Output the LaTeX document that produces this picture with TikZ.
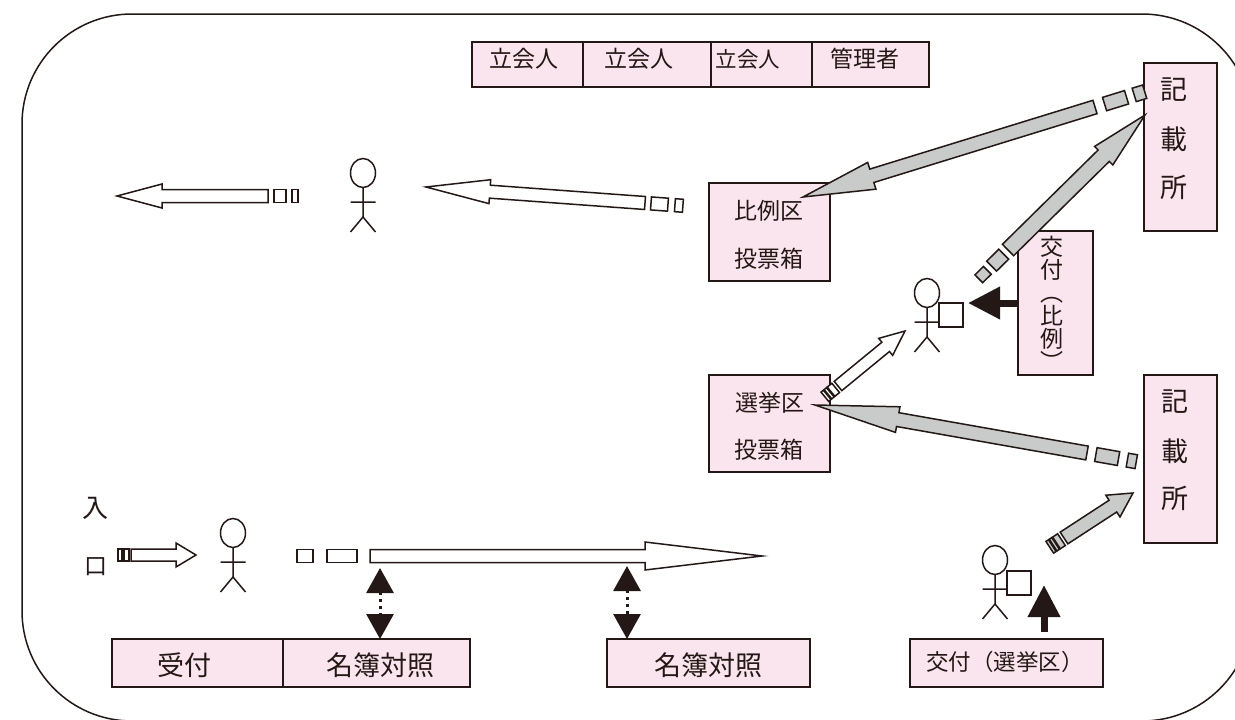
\documentclass[tikz,border=0pt]{standalone}
\usepackage{fontspec}
\newfontfamily\cjk{Noto Sans CJK JP}
\usetikzlibrary{arrows.meta,calc}

\definecolor{inkline}{HTML}{231815}
\definecolor{boxpink}{HTML}{FAE4EE}
\definecolor{arrowgray}{HTML}{C9CACA}

\tikzset{
  pinkbox/.style={draw=inkline,fill=boxpink,line width=1.5pt,inner sep=0pt,outer sep=0pt,anchor=north west},
  kanji/.style={text=inkline,inner sep=0pt,font=\cjk\fontsize{#1}{#1}\selectfont},
  kanji/.default=23,
  whitearrow/.style={draw=inkline,fill=white,line width=1.5pt,line join=miter},
  grayarrow/.style={draw=inkline,fill=arrowgray,line width=1.5pt,line join=miter},
  card/.style={draw=inkline,fill=white,line width=1.5pt,minimum size=24pt,inner sep=0pt,outer sep=0pt},
  blackarrow/.style={draw=inkline,line width=7pt,-{Triangle[length=32pt,width=31pt]}},
  checkarrow/.style={draw=inkline,line width=3pt,dash pattern=on 3pt off 4pt,
    {Triangle[length=25pt,width=27pt]}-{Triangle[length=25pt,width=27pt]}},
}

% block arrow: style, tail, tip, half width, half head, head length
\newcommand{\flowarrow}[6]{%
  \coordinate (neck) at ($(#3)!#6!(#2)$);
  \draw[#1] (#3) -- ($(neck)!#5!90:(#3)$) -- ($(neck)!#4!90:(#3)$)
    -- ($(#2)!#4!90:(#3)$) -- ($(#2)!#4!-90:(#3)$)
    -- ($(neck)!#4!-90:(#3)$) -- ($(neck)!#5!-90:(#3)$) -- cycle;
}
% broken piece behind the tail: style, tail, tip, from, to, half width
\newcommand{\flowdash}[6]{%
  \coordinate (fa) at ($(#2)!-#4!(#3)$);
  \coordinate (fb) at ($(#2)!-#5!(#3)$);
  \draw[#1] ($(fa)!#6!90:(#3)$) -- ($(fa)!#6!-90:(#3)$)
    -- ($(fb)!#6!-90:(#3)$) -- ($(fb)!#6!90:(#3)$) -- cycle;
}
% stick figure: x, y of the head centre
\newcommand{\stickman}[2]{%
  \draw[draw=inkline,line width=1.5pt] (#1,#2) ellipse [x radius=12.5pt,y radius=14.5pt];
  \draw[draw=inkline,line width=1.5pt] (#1,#2+14.5) -- (#1,#2+44)
    (#1-12.5,#2+29) -- (#1+12.5,#2+29)
    (#1-12.5,#2+59) -- (#1,#2+44) -- (#1+12.5,#2+59);
}

\begin{document}
\begin{tikzpicture}[x=1pt,y=-1pt]

\useasboundingbox (0,0) rectangle (1235,720);

% ========================
% ROOM OUTLINE
% ========================

\draw[draw=inkline,line width=1.5pt,rounded corners=110pt] (22,14) rectangle (1252,721);

% ========================
% TOP ROW
% ========================

\node[pinkbox,minimum width=111pt,minimum height=45pt] (tachi1) at (472,42) {};
\node[pinkbox,minimum width=128pt,minimum height=45pt] (tachi2) at (583,42) {};
\node[pinkbox,minimum width=101pt,minimum height=45pt] (tachi3) at (711,42) {};
\node[pinkbox,minimum width=117pt,minimum height=45pt] (kanri) at (812,42) {};
\node[kanji] (tachi1t) at (524,59) {立会人};
\node[kanji] (tachi2t) at (639,59) {立会人};
\node[kanji=21.5] (tachi3t) at (748,59) {立会人};
\node[kanji] (kanrit) at (865,59) {管理者};

% ========================
% RIGHT BOXES
% ========================

\node[pinkbox,minimum width=73pt,minimum height=168pt] (kisaiu) at (1144,63) {};
\node[kanji=27] (kisaiu1) at (1174,90) {記};
\node[kanji=27] (kisaiu2) at (1174,139) {載};
\node[kanji=27] (kisaiu3) at (1174,187) {所};

\node[pinkbox,minimum width=73pt,minimum height=168pt] (kisail) at (1144,375) {};
\node[kanji=27] (kisail1) at (1175,402) {記};
\node[kanji=27] (kisail2) at (1175,451) {載};
\node[kanji=27] (kisail3) at (1175,498) {所};

\node[pinkbox,minimum width=75pt,minimum height=144pt] (kofuh) at (1018,231) {};
\node[kanji=23,align=center] (kofuht) at (1052,303) {交\\付\\︵\\比\\例\\︶};

\node[pinkbox,minimum width=121pt,minimum height=98pt] (hakoh) at (709,183) {};
\node[kanji] (hakoh1) at (769,211) {比例区};
\node[kanji] (hakoh2) at (769,259) {投票箱};

\node[pinkbox,minimum width=121pt,minimum height=97pt] (hakos) at (709,375) {};
\node[kanji] (hakos1) at (770,403) {選挙区};
\node[kanji] (hakos2) at (769,450) {投票箱};

% ========================
% BOTTOM ROW
% ========================

\node[pinkbox,minimum width=171pt,minimum height=48pt] (uketsuke) at (112,639) {};
\node[pinkbox,minimum width=187pt,minimum height=48pt] (meibo1) at (283,639) {};
\node[pinkbox,minimum width=203pt,minimum height=48pt] (meibo2) at (607,639) {};
\node[pinkbox,minimum width=193pt,minimum height=48pt] (kofus) at (910,639) {};
\node[kanji=27] (uketsuket) at (184,665) {受付};
\node[kanji=27] (meibo1t) at (380,665) {名簿対照};
\node[kanji=27] (meibo2t) at (708,665) {名簿対照};
\node[kanji=22.5] (kofust) at (1005,662) {交付（選挙区）};

\node[kanji=26] (iri) at (95,508) {入};
\node[kanji=23] (kuchi) at (96,567) {口};

% ========================
% PEOPLE
% ========================

\stickman{363}{173}
\stickman{927}{293}
\stickman{995}{560}
\stickman{233}{533}

\node[card] (cardh) at (951,315) {};
\node[card] (cards) at (1019,583) {};

% ========================
% ARROWS
% ========================

% leaving
\coordinate (outt) at (268,196);
\coordinate (outh) at (117,196);
\flowarrow{whitearrow}{outt}{outh}{6.5pt}{12pt}{45pt}
\flowdash{whitearrow}{outt}{outh}{6pt}{18pt}{6.5pt}
\flowdash{whitearrow}{outt}{outh}{24pt}{30pt}{6.5pt}

\coordinate (walkt) at (645,203);
\coordinate (walkh) at (426,187);
\flowarrow{whitearrow}{walkt}{walkh}{6.5pt}{12pt}{64pt}
\flowdash{whitearrow}{walkt}{walkh}{6pt}{23pt}{6.5pt}
\flowdash{whitearrow}{walkt}{walkh}{30pt}{38pt}{6.5pt}

% to the ballot boxes
\coordinate (pt) at (1095,107);
\coordinate (ph) at (803,197);
\flowarrow{grayarrow}{pt}{ph}{7pt}{14pt}{72pt}
\flowdash{grayarrow}{pt}{ph}{10pt}{33pt}{7pt}
\flowdash{grayarrow}{pt}{ph}{41pt}{52pt}{7pt}

\coordinate (st) at (1087,453);
\coordinate (sh) at (815,405);
\flowarrow{grayarrow}{st}{sh}{7pt}{13pt}{84pt}
\flowdash{grayarrow}{st}{sh}{9pt}{32pt}{7pt}
\flowdash{grayarrow}{st}{sh}{41pt}{50pt}{7pt}

% to the writing desks
\coordinate (kt) at (1008,250);
\coordinate (kh) at (1145,115);
\flowarrow{grayarrow}{kt}{kh}{8pt}{13pt}{58pt}
\flowdash{grayarrow}{kt}{kh}{6pt}{23pt}{7pt}
\flowdash{grayarrow}{kt}{kh}{29pt}{41pt}{5.5pt}

\coordinate (lt) at (1064,538);
\coordinate (lh) at (1133,493);
\flowarrow{grayarrow}{lt}{lh}{7pt}{13pt}{24pt}
\flowdash{grayarrow}{lt}{lh}{3pt}{9pt}{7pt}
\flowdash{grayarrow}{lt}{lh}{10pt}{13pt}{7pt}
\flowdash{grayarrow}{lt}{lh}{14pt}{17pt}{7pt}

% from the box to the desk
\coordinate (bt) at (838,386);
\coordinate (bh) at (905,331);
\flowarrow{whitearrow}{bt}{bh}{6pt}{11pt}{25pt}
\flowdash{whitearrow}{bt}{bh}{3pt}{9pt}{6pt}
\flowdash{whitearrow}{bt}{bh}{10pt}{13pt}{6pt}
\flowdash{whitearrow}{bt}{bh}{14pt}{17pt}{6pt}

% entrance
\coordinate (it) at (131,555);
\coordinate (ih) at (196,555);
\flowarrow{whitearrow}{it}{ih}{6pt}{12pt}{20pt}
\flowdash{whitearrow}{it}{ih}{2pt}{7pt}{6pt}
\flowdash{whitearrow}{it}{ih}{9pt}{13pt}{6pt}

% along the table
\coordinate (lgt) at (370,556);
\coordinate (lgh) at (762,556);
\flowarrow{whitearrow}{lgt}{lgh}{6.5pt}{14pt}{117pt}
\flowdash{whitearrow}{lgt}{lgh}{13pt}{43pt}{6.5pt}
\flowdash{whitearrow}{lgt}{lgh}{57pt}{73pt}{6.5pt}

% ballots handed over
\coordinate (handh) at (968,303);
\coordinate (hands) at (1044,585);
\coordinate (basek) at (1044,632);
\draw[blackarrow] (kofuh.west) -- (handh);
\draw[blackarrow] (basek) -- (hands);

% register checks
\coordinate (chk1) at (380,568);
\coordinate (chk2) at (627,566);
\draw[checkarrow] (chk1) -- (meibo1.north -| chk1);
\draw[checkarrow] (chk2) -- (meibo2.north -| chk2);

\end{tikzpicture}
\end{document}
